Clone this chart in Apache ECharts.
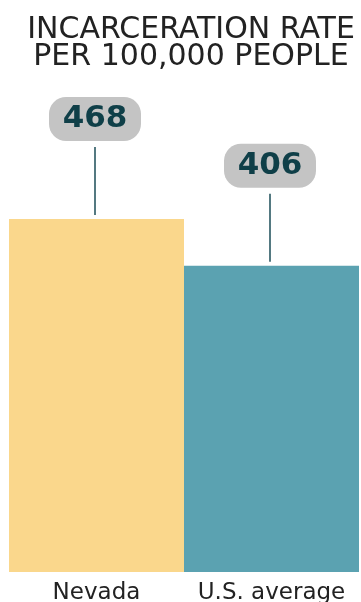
<!DOCTYPE html>
<html>
<head>
<meta charset="utf-8">
<script src="https://cdn.jsdelivr.net/npm/echarts@6/dist/echarts.min.js"></script>
<style>
html,body{margin:0;padding:0;background:#fff;}
#chart{width:361px;height:602px;}
</style>
</head>
<body>
<div id="chart"></div>
<script>
const categories = ["Nevada", "U.S. average"];
const values = [468, 406];
const barColors = ["#FAD78C", "#5BA2B1"];
const titleText = "INCARCERATION RATE\nPER 100,000 PEOPLE";

const chart = echarts.init(document.getElementById('chart'), null, {renderer: 'canvas'});
chart.setOption({
  animation: false,
  title: {
    text: titleText,
    left: 186,
    top: 12,
    textAlign: 'center',
    textStyle: {
      fontFamily: 'DejaVu Sans',
      fontSize: 30,
      fontWeight: 'normal',
      color: '#222222',
      lineHeight: 27
    }
  },
  grid: {left: 9, right: 2, top: 219, bottom: 30, containLabel: false, outerBoundsMode: 'none'},
  xAxis: {
    type: 'category',
    data: categories,
    axisLine: {show: false},
    axisTick: {show: false},
    axisLabel: {
      fontFamily: 'DejaVu Sans',
      fontSize: 23,
      color: '#222222',
      margin: 10,
      interval: 0
    }
  },
  yAxis: {
    type: 'value',
    min: 0,
    max: values[0],
    show: false,
    splitLine: {show: false}
  },
  series: [
    {
      type: 'bar',
      barWidth: '100%',
      barCategoryGap: 0,
      data: values.map((v, i) => ({value: v, itemStyle: {color: barColors[i]}})),
      silent: true
    },
    {
      type: 'custom',
      clip: false,
      silent: true,
      data: values.map((v, i) => [i, v]),
      renderItem: function (params, api) {
        const p = api.coord([api.value(0), api.value(1)]);
        const x = p[0] - 1.5;
        const top = p[1];
        const boxW = 92, boxH = 44;
        const boxBottom = top - 78;
        return {
          type: 'group',
          children: [
            {
              type: 'line',
              shape: {x1: x, y1: top - 4, x2: x, y2: top - 72},
              style: {stroke: '#1B4D57', lineWidth: 1.5}
            },
            {
              type: 'rect',
              shape: {x: x - boxW / 2, y: boxBottom - boxH, width: boxW, height: boxH, r: 17},
              style: {fill: '#C4C4C4'}
            },
            {
              type: 'text',
              style: {
                text: String(api.value(1)),
                x: x,
                y: boxBottom - boxH / 2,
                align: 'center',
                verticalAlign: 'middle',
                fill: '#0F3F48',
                font: 'bold 31px "DejaVu Sans"'
              }
            }
          ]
        };
      }
    }
  ]
});
</script>
</body>
</html>
